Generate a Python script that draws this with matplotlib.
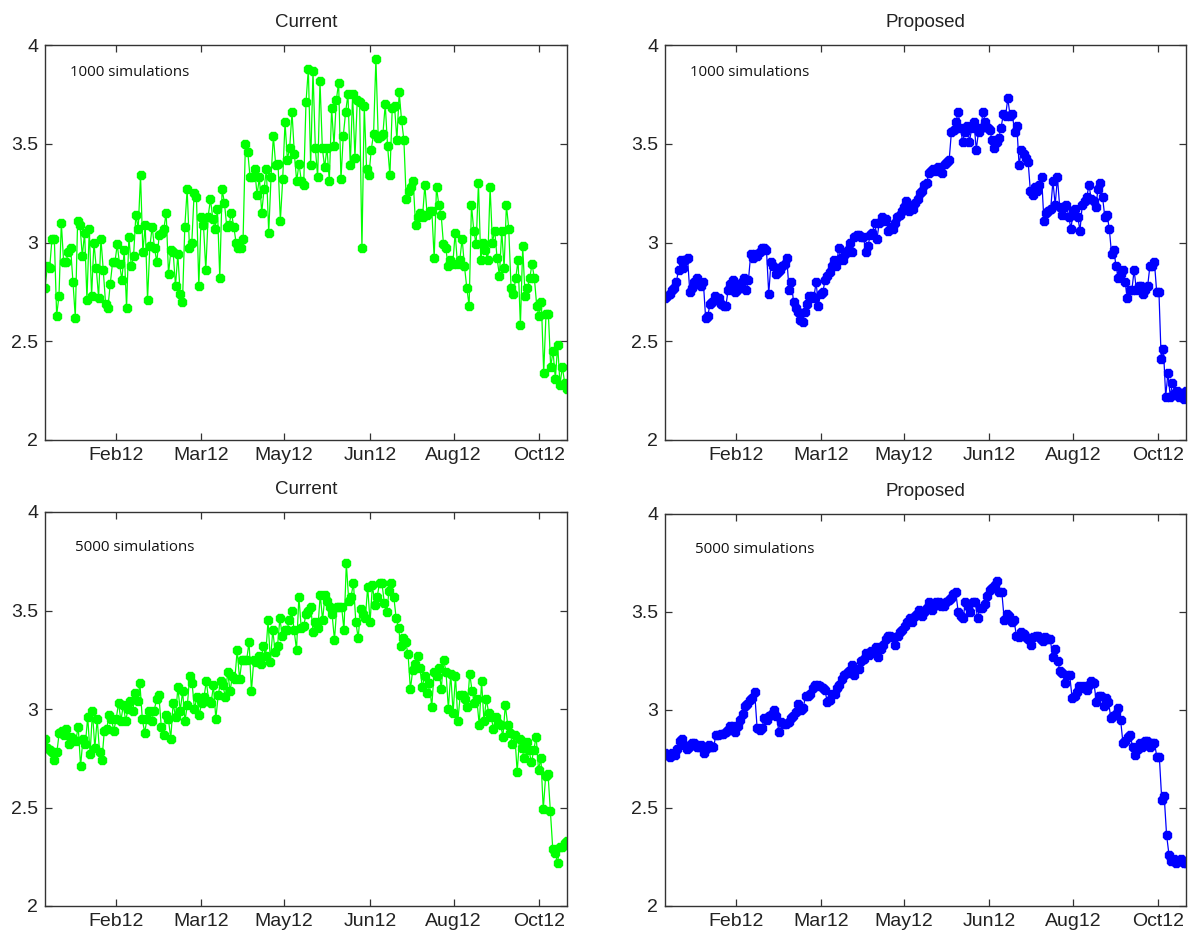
import numpy as np
import matplotlib
matplotlib.use('Agg')
import matplotlib.pyplot as plt

# values, one per trading day (roughly)
current_1000 = [2.77, 2.88, 2.87, 3.02, 3.02, 2.63, 2.73, 3.10, 2.90, 2.90, 2.95, 2.97, 2.80, 2.62, 3.11, 3.09,
                2.93, 3.05, 2.71, 3.07, 2.73, 3.00, 2.87, 2.72, 3.02, 2.86, 2.69, 2.67, 2.79, 2.90, 2.90, 2.99,
                2.89, 2.81, 2.96, 2.67, 3.03, 2.88, 2.93, 3.14, 3.07, 3.34, 2.95, 3.09, 2.71, 2.98, 3.08, 2.97,
                2.90, 3.04, 3.05, 3.07, 3.15, 2.84, 2.96, 2.95, 2.78, 2.94, 2.74, 2.70, 3.08, 3.27, 2.97, 3.00,
                3.25, 3.23, 2.78, 3.13, 3.09, 2.86, 3.13, 3.22, 3.12, 3.07, 3.17, 2.82, 3.27, 3.20, 3.08, 3.09,
                3.15, 3.08, 3.00, 2.97, 2.97, 3.02, 3.50, 3.46, 3.33, 3.33, 3.37, 3.24, 3.33, 3.15, 3.27, 3.37,
                3.05, 3.33, 3.54, 3.39, 3.40, 3.11, 3.32, 3.61, 3.42, 3.48, 3.66, 3.45, 3.31, 3.40, 3.31, 3.29,
                3.71, 3.88, 3.39, 3.87, 3.48, 3.33, 3.82, 3.48, 3.38, 3.48, 3.31, 3.68, 3.49, 3.72, 3.81, 3.32,
                3.54, 3.66, 3.75, 3.39, 3.75, 3.43, 3.72, 3.71, 2.97, 3.69, 3.37, 3.34, 3.47, 3.55, 3.93, 3.53,
                3.54, 3.55, 3.70, 3.49, 3.34, 3.68, 3.69, 3.52, 3.76, 3.62, 3.52, 3.22, 3.26, 3.28, 3.31, 3.09,
                3.13, 3.15, 3.13, 3.29, 3.14, 3.16, 3.16, 2.92, 3.28, 3.19, 3.14, 2.99, 2.97, 2.88, 2.91, 2.89,
                3.05, 2.89, 2.91, 3.02, 2.88, 2.77, 2.68, 3.19, 3.06, 2.99, 3.30, 2.91, 3.00, 2.96, 2.91, 3.28,
                3.00, 3.06, 2.92, 2.83, 3.06, 2.87, 3.19, 3.07, 2.77, 2.74, 2.82, 2.91, 2.58, 2.98, 2.73, 2.77,
                2.82, 2.89, 2.82, 2.68, 2.63, 2.70, 2.34, 2.64, 2.64, 2.37, 2.45, 2.31, 2.48, 2.28, 2.37, 2.29,
                2.26]

proposed_1000 = [2.72, 2.73, 2.74, 2.76, 2.77, 2.80, 2.86, 2.91, 2.87, 2.91, 2.92, 2.75, 2.77, 2.80, 2.82, 2.79,
                 2.78, 2.80, 2.62, 2.63, 2.69, 2.70, 2.73, 2.71, 2.72, 2.69, 2.68, 2.68, 2.76, 2.79, 2.81, 2.75,
                 2.76, 2.78, 2.80, 2.82, 2.76, 2.81, 2.94, 2.92, 2.94, 2.93, 2.95, 2.97, 2.97, 2.96, 2.74, 2.90,
                 2.88, 2.84, 2.85, 2.86, 2.88, 2.89, 2.92, 2.76, 2.80, 2.70, 2.67, 2.65, 2.61, 2.60, 2.65, 2.69,
                 2.73, 2.73, 2.72, 2.80, 2.68, 2.74, 2.75, 2.81, 2.83, 2.85, 2.88, 2.91, 2.88, 2.97, 2.92, 2.91,
                 2.94, 2.96, 3.00, 2.95, 3.03, 3.04, 3.04, 3.03, 3.03, 2.95, 2.98, 3.04, 3.05, 3.10, 3.02, 3.10,
                 3.13, 3.11, 3.12, 3.06, 3.08, 3.07, 3.10, 3.13, 3.14, 3.16, 3.18, 3.21, 3.16, 3.18, 3.17, 3.20,
                 3.22, 3.25, 3.26, 3.29, 3.30, 3.35, 3.36, 3.37, 3.36, 3.38, 3.36, 3.35, 3.40, 3.41, 3.42, 3.56,
                 3.57, 3.61, 3.66, 3.58, 3.51, 3.56, 3.59, 3.51, 3.58, 3.61, 3.47, 3.56, 3.58, 3.66, 3.61, 3.58,
                 3.57, 3.52, 3.48, 3.51, 3.53, 3.58, 3.65, 3.64, 3.73, 3.64, 3.65, 3.56, 3.59, 3.39, 3.47, 3.45,
                 3.43, 3.41, 3.26, 3.24, 3.28, 3.26, 3.29, 3.33, 3.11, 3.15, 3.16, 3.17, 3.31, 3.19, 3.33, 3.18,
                 3.14, 3.18, 3.19, 3.13, 3.07, 3.16, 3.17, 3.13, 3.06, 3.19, 3.21, 3.23, 3.29, 3.22, 3.21, 3.18,
                 3.27, 3.30, 3.23, 3.13, 3.14, 3.07, 2.94, 2.96, 2.88, 2.82, 2.84, 2.86, 2.80, 2.72, 2.76, 2.76,
                 2.86, 2.76, 2.78, 2.78, 2.74, 2.76, 2.78, 2.88, 2.88, 2.90, 2.75, 2.75, 2.41, 2.46, 2.22, 2.34,
                 2.22, 2.29, 2.24, 2.25, 2.22, 2.24, 2.21, 2.25]

current_5000 = [2.85, 2.80, 2.79, 2.78, 2.74, 2.78, 2.88, 2.89, 2.87, 2.90, 2.82, 2.86, 2.85, 2.84, 2.91, 2.71,
                2.85, 2.82, 2.96, 2.77, 2.99, 2.80, 2.95, 2.78, 2.74, 2.89, 2.90, 2.97, 2.95, 2.89, 2.95, 3.03,
                2.94, 3.02, 2.94, 3.00, 3.04, 2.99, 3.08, 3.04, 3.13, 2.95, 2.88, 2.95, 2.99, 2.94, 2.99, 3.05,
                3.07, 2.91, 2.87, 2.97, 2.95, 2.85, 3.03, 2.96, 3.11, 2.99, 3.09, 2.94, 3.02, 3.17, 3.13, 3.00,
                3.06, 2.97, 3.03, 3.06, 3.14, 3.04, 3.03, 3.12, 2.95, 3.07, 3.14, 3.12, 3.06, 3.19, 3.09, 3.17,
                3.15, 3.30, 3.15, 3.25, 3.25, 3.25, 3.34, 3.09, 3.25, 3.24, 3.27, 3.23, 3.32, 3.27, 3.45, 3.24,
                3.40, 3.29, 3.32, 3.46, 3.37, 3.40, 3.40, 3.45, 3.50, 3.40, 3.30, 3.57, 3.41, 3.42, 3.48, 3.50,
                3.52, 3.39, 3.44, 3.41, 3.58, 3.45, 3.58, 3.55, 3.52, 3.48, 3.35, 3.52, 3.52, 3.52, 3.40, 3.74,
                3.55, 3.57, 3.64, 3.44, 3.36, 3.51, 3.48, 3.46, 3.62, 3.44, 3.63, 3.53, 3.57, 3.64, 3.64, 3.54,
                3.49, 3.60, 3.64, 3.57, 3.46, 3.41, 3.32, 3.36, 3.34, 3.28, 3.10, 3.20, 3.23, 3.27, 3.21, 3.11,
                3.17, 3.08, 3.13, 3.01, 3.19, 3.17, 3.21, 3.10, 3.25, 3.19, 3.00, 3.18, 2.98, 3.17, 2.94, 3.07,
                3.07, 3.05, 3.01, 3.18, 3.09, 3.03, 3.05, 2.92, 3.14, 2.94, 3.05, 2.98, 2.96, 2.90, 2.96, 2.93,
                2.92, 2.86, 3.02, 2.92, 2.88, 2.82, 2.87, 2.68, 2.85, 2.80, 2.75, 2.83, 2.79, 2.73, 2.79, 2.86,
                2.69, 2.75, 2.49, 2.66, 2.67, 2.48, 2.29, 2.27, 2.22, 2.30, 2.30, 2.32, 2.33]

proposed_5000 = [2.78, 2.77, 2.76, 2.78, 2.77, 2.80, 2.84, 2.85, 2.82, 2.80, 2.81, 2.83, 2.83, 2.81, 2.81, 2.82,
                 2.78, 2.80, 2.82, 2.81, 2.81, 2.87, 2.87, 2.88, 2.88, 2.89, 2.90, 2.92, 2.92, 2.89, 2.92, 2.95,
                 2.98, 3.02, 3.03, 3.05, 3.06, 3.09, 2.91, 2.90, 2.91, 2.96, 2.95, 2.97, 2.98, 3.00, 2.97, 2.89,
                 2.94, 2.93, 2.93, 2.94, 2.96, 2.97, 2.99, 3.03, 3.00, 3.01, 3.07, 3.07, 3.08, 3.11, 3.13, 3.13,
                 3.12, 3.11, 3.10, 3.04, 3.05, 3.08, 3.08, 3.11, 3.13, 3.16, 3.18, 3.19, 3.20, 3.23, 3.18, 3.21,
                 3.21, 3.25, 3.26, 3.29, 3.28, 3.30, 3.30, 3.32, 3.27, 3.31, 3.33, 3.36, 3.38, 3.38, 3.37, 3.33,
                 3.38, 3.40, 3.41, 3.43, 3.45, 3.47, 3.45, 3.48, 3.49, 3.51, 3.48, 3.50, 3.52, 3.55, 3.51, 3.53,
                 3.55, 3.55, 3.53, 3.53, 3.55, 3.56, 3.57, 3.59, 3.60, 3.50, 3.48, 3.47, 3.55, 3.53, 3.50, 3.55,
                 3.55, 3.47, 3.52, 3.52, 3.54, 3.58, 3.61, 3.62, 3.64, 3.66, 3.60, 3.60, 3.46, 3.49, 3.48, 3.45,
                 3.46, 3.38, 3.37, 3.40, 3.39, 3.37, 3.36, 3.33, 3.37, 3.38, 3.38, 3.36, 3.35, 3.37, 3.36, 3.36,
                 3.27, 3.31, 3.25, 3.20, 3.19, 3.14, 3.18, 3.18, 3.06, 3.07, 3.09, 3.12, 3.11, 3.12, 3.10, 3.13,
                 3.15, 3.14, 3.04, 3.07, 3.07, 3.02, 3.06, 3.04, 2.96, 2.97, 2.98, 3.01, 2.95, 2.83, 2.84, 2.86,
                 2.87, 2.81, 2.77, 2.80, 2.83, 2.81, 2.84, 2.84, 2.81, 2.83, 2.83, 2.76, 2.76, 2.54, 2.56, 2.36,
                 2.26, 2.23, 2.24, 2.22, 2.23, 2.24, 2.22, 2.22]

n_days = 200
month_ticks = [27.2, 59.8, 91.6, 124.5, 156.6, 189.2]
month_labels = ['Feb12', 'Mar12', 'May12', 'Jun12', 'Aug12', 'Oct12']
y_ticks = [2, 2.5, 3, 3.5, 4]
y_labels = ['2', '2.5', '3', '3.5', '4']

panels = [
    (current_1000, 'Current', '1000 simulations', '#00ff00'),
    (proposed_1000, 'Proposed', '1000 simulations', '#0000ff'),
    (current_5000, 'Current', '5000 simulations', '#00ff00'),
    (proposed_5000, 'Proposed', '5000 simulations', '#0000ff'),
]

# axes boxes in pixels: left, top, right, bottom
boxes = [(45, 45, 567, 440), (665, 45, 1186, 440),
         (45, 512, 567, 906), (665, 514, 1186, 906)]
note_xy = [(0.048, 0.93), (0.048, 0.93), (0.057, 0.91), (0.058, 0.91)]

W, H = 1190, 934
fig = plt.figure(figsize=(W / 100, H / 100), dpi=100)
font = 'Liberation Sans'

for (vals, title, note, col), (l, t, r, b), (nx, ny) in zip(panels, boxes, note_xy):
    ax = fig.add_axes([l / W, 1 - b / H, (r - l) / W, (b - t) / H])
    x = np.linspace(0, n_days, len(vals))
    ax.plot(x, vals, '-', color=col, lw=0.9, marker='8', ms=6, mec=col, mfc=col)
    ax.set_xlim(0, n_days)
    ax.set_ylim(2, 4)
    ax.set_xticks(month_ticks)
    ax.set_xticklabels(month_labels, fontsize=14, family=font, color='#222222')
    ax.set_yticks(y_ticks)
    ax.set_yticklabels(y_labels, fontsize=14, family=font, color='#222222')
    ax.tick_params(direction='in', length=5, width=0.9, color='#333333',
                   top=True, right=True, pad=5)
    for s in ax.spines.values():
        s.set_color('#333333')
        s.set_linewidth(1.0)
    ax.set_title(title, fontsize=13.5, family=font, color='#222222', pad=13)
    ax.text(nx, ny, note, transform=ax.transAxes, fontsize=10.8, family='Open Sans',
            color='#111111', va='center', ha='left')

fig.savefig('out.png', dpi=100)
